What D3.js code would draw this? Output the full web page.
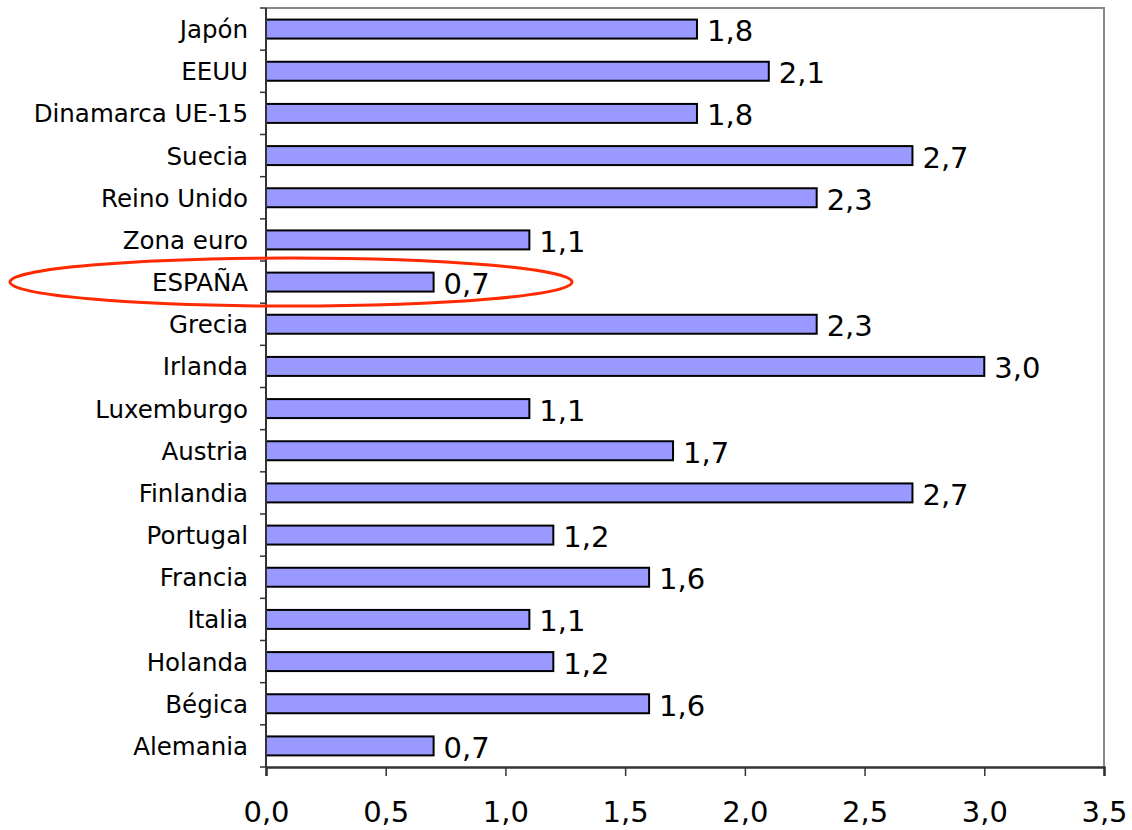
<!DOCTYPE html>
<html><head><meta charset="utf-8">
<script src="https://cdn.jsdelivr.net/npm/d3@7"></script>
<style>body{margin:0;background:#fff}svg{display:block}</style>
</head><body>
<svg id="c" width="1132" height="830"></svg>
<script>
const categories = ["Japón","EEUU","Dinamarca UE-15","Suecia","Reino Unido","Zona euro","ESPAÑA","Grecia","Irlanda","Luxemburgo","Austria","Finlandia","Portugal","Francia","Italia","Holanda","Bégica","Alemania"];
const values = [1.8,2.1,1.8,2.7,2.3,1.1,0.7,2.3,3.0,1.1,1.7,2.7,1.2,1.6,1.1,1.2,1.6,0.7];
const xTicks = [0,0.5,1,1.5,2,2.5,3,3.5];
const highlight = "ESPAÑA";

const svg = d3.select("#c");
const m = {l:266, t:8, r:1104, b:767};
const x = d3.scaleLinear().domain([0,3.5]).range([m.l, m.r]);
const y = d3.scaleBand().domain(categories).range([m.t, m.b]).paddingInner(0.55).paddingOuter(0.275);
const fmt = d => d3.format(".1f")(d).replace(".", ",");
const font = "'DejaVu Sans', Verdana, sans-serif";

// plot border (top/right)
svg.append("path")
  .attr("d", `M${m.l},${m.t}H${m.r}V${m.b}`)
  .attr("fill","none").attr("stroke","#888").attr("stroke-width",2);

// bars
svg.selectAll("rect.bar").data(categories).join("rect")
  .attr("x", x(0)).attr("y", d => y(d))
  .attr("width", (d,i) => x(values[i]) - x(0))
  .attr("height", y.bandwidth())
  .attr("fill","#9999ff").attr("stroke","#000").attr("stroke-width",2);

// value labels
svg.selectAll("text.val").data(categories).join("text")
  .attr("x", (d,i) => x(values[i]) + 10)
  .attr("y", d => y(d) + y.bandwidth()/2 + 12)
  .attr("font-family", font).attr("font-size", 29).attr("fill","#000")
  .text((d,i) => fmt(values[i]));

// y axis
const yAxisG = svg.append("g");
yAxisG.append("line").attr("x1",m.l).attr("x2",m.l).attr("y1",m.t).attr("y2",m.b)
  .attr("stroke","#333").attr("stroke-width",2);
const bounds = d3.range(categories.length+1).map(i => m.t + i*(m.b-m.t)/categories.length);
yAxisG.selectAll("line.t").data(bounds).join("line")
  .attr("x1",m.l-6).attr("x2",m.l).attr("y1",d=>d).attr("y2",d=>d)
  .attr("stroke","#333").attr("stroke-width",1.5);
yAxisG.selectAll("text").data(categories).join("text")
  .attr("x", m.l-18).attr("y", d => y(d) + y.bandwidth()/2 + 9)
  .attr("text-anchor","end").attr("font-family",font).attr("font-size",24.5).attr("fill","#000")
  .text(d=>d);

// x axis
const xAxis = d3.axisBottom(x).tickValues(xTicks).tickSize(9).tickPadding(25).tickFormat(fmt);
const xg = svg.append("g").attr("transform",`translate(0,${m.b})`).call(xAxis);
xg.select(".domain").attr("stroke","#333").attr("stroke-width",2.5);
xg.selectAll(".tick line").attr("stroke","#333").attr("stroke-width",1.5);
xg.selectAll(".tick text").attr("font-family",font).attr("font-size",29).attr("fill","#000");

// highlight ellipse
svg.append("ellipse")
  .attr("cx", 291).attr("cy", y(highlight) + y.bandwidth()/2)
  .attr("rx", 281).attr("ry", 24)
  .attr("fill","none").attr("stroke","#ff2a00").attr("stroke-width",3);
</script>
</body></html>
